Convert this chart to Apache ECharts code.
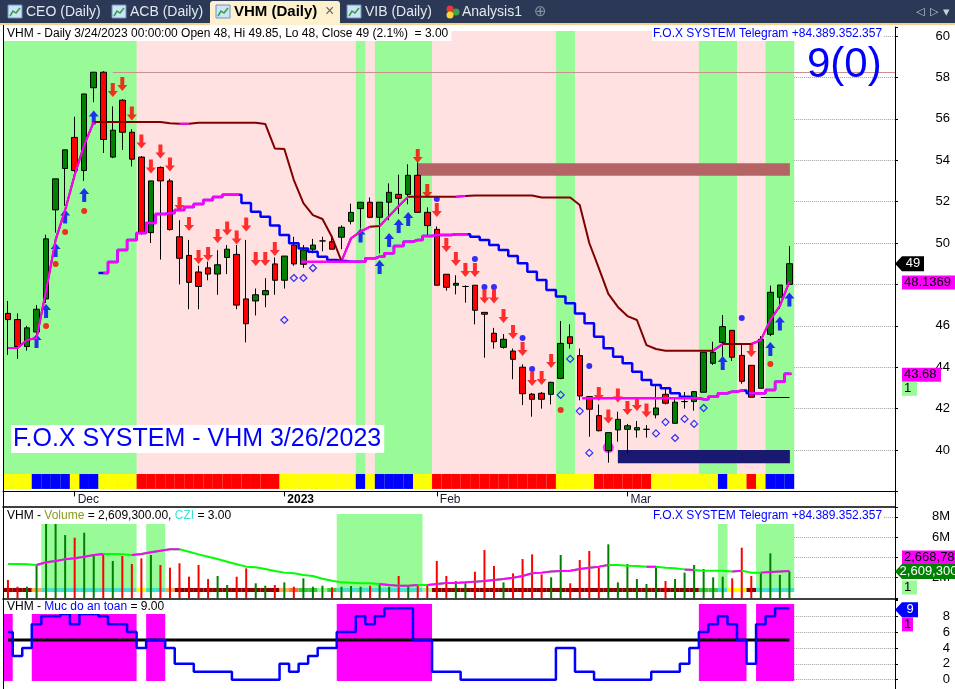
<!DOCTYPE html>
<html>
<head>
<meta charset="utf-8">
<script src="https://cdn.jsdelivr.net/npm/echarts@6.0.0/dist/echarts.min.js"></script>
<style>
html,body{margin:0;padding:0;background:#fff;}
#chart{width:955px;height:689px;}
</style>
</head>
<body>
<div id="chart"></div>
<script>
// ---------------- DATA ----------------
const dates = ['2022-11-22','2022-11-23','2022-11-24','2022-11-25','2022-11-28','2022-11-29','2022-11-30',
'2022-12-01','2022-12-02','2022-12-05','2022-12-06','2022-12-07','2022-12-08','2022-12-09','2022-12-12','2022-12-13','2022-12-14','2022-12-15','2022-12-16','2022-12-19','2022-12-20','2022-12-21','2022-12-22','2022-12-23','2022-12-26','2022-12-27','2022-12-28','2022-12-29','2022-12-30',
'2023-01-03','2023-01-04','2023-01-05','2023-01-06','2023-01-09','2023-01-10','2023-01-11','2023-01-12','2023-01-13','2023-01-16','2023-01-17','2023-01-18','2023-01-19','2023-01-27','2023-01-30','2023-01-31',
'2023-02-01','2023-02-02','2023-02-03','2023-02-06','2023-02-07','2023-02-08','2023-02-09','2023-02-10','2023-02-13','2023-02-14','2023-02-15','2023-02-16','2023-02-17','2023-02-20','2023-02-21','2023-02-22','2023-02-23','2023-02-24','2023-02-27','2023-02-28',
'2023-03-01','2023-03-02','2023-03-03','2023-03-06','2023-03-07','2023-03-08','2023-03-09','2023-03-10','2023-03-13','2023-03-14','2023-03-15','2023-03-16','2023-03-17','2023-03-20','2023-03-21','2023-03-22','2023-03-23','2023-03-24'];

const opens = [46.6,46.3,45.0,45.7,47.3,51.6,53.6,55.1,53.5,57.5, 58.25,54.15,56.9,55.35,54.15,50.5,53.65,53.0,50.3,49.4, 48.6,48.8,48.5,49.3,49.45,47.3,47.2,47.5,48.99,48.2, 49.9,48.97,49.7,50.1,50.06,50.28,51.05,51.66,51.97,51.24, 51.97,52.35,52.35,53.27,51.48,50.66,48.49,47.96,47.9,47.96, 46.65,45.64,44.96,44.78,44.0,42.7,42.74,42.69,43.46,45.47, 44.56,42.58,41.66,39.97,40.97,41.0,40.97,41.0,41.7,42.69, 41.29,42.34,42.34,42.79,44.19,45.2,45.78,44.57,44.09,42.98, 45.59,47.38,48.0];
const highs = [47.2,46.6,46.0,47.0,50.4,53.1,54.5,56.1,57.2,58.25, 58.3,56.6,56.95,55.5,54.2,53.0,53.7,53.1,51.1,50.15, 48.9,49.1,49.65,49.9,49.9,50.15,47.8,48.3,49.3,49.37, 50.3,49.9,50.2,50.3,50.3,50.85,51.9,51.97,52.2,51.97, 52.88,53.3,53.8,53.9,51.72,50.8,48.5,48.44,47.95,47.96, 46.65,45.9,45.6,44.9,44.14,42.75,42.8,43.3,46.23,46.07, 44.9,42.6,42.2,40.84,41.85,41.26,41.4,41.2,43.14,43.0, 42.5,42.8,42.85,44.72,45.23,46.52,45.8,45.1,44.1,45.5, 47.94,47.97,49.85];
const lows = [44.6,44.4,44.8,45.6,47.1,50.5,51.8,53.4,53.0,56.8, 54.35,54.1,54.5,53.7,50.4,50.0,49.2,50.6,48.0,46.8, 46.8,48.2,47.5,48.5,46.8,45.2,46.5,46.9,47.5,47.8, 48.9,48.8,49.5,49.6,49.7,49.7,50.9,50.7,51.2,49.5, 51.1,51.4,51.87,51.48,50.39,47.96,47.7,47.52,47.12,46.07, 44.46,44.9,44.9,43.42,42.17,41.61,42.0,42.2,43.42,44.9, 42.4,40.64,40.9,39.39,40.4,39.84,40.6,40.6,41.53,42.2, 41.29,42.0,41.9,42.79,44.11,44.51,44.3,43.2,42.55,42.98, 45.5,46.81,48.0];
const closes = [46.3,45.0,45.9,46.8,50.2,53.1,54.5,53.5,57.2,58.25, 55.0,55.45,55.35,54.05,50.5,53.0,53.0,50.65,49.26,48.1, 47.9,48.5,48.95,49.7,47.0,46.1,47.5,47.7,48.2,49.37, 48.99,49.66,49.9,50.1,49.7,50.76,51.48,51.97,51.24,51.97, 52.45,52.16,53.27,51.48,50.84,47.96,47.86,48.05,47.9,46.75, 46.56,45.23,45.35,44.38,42.72,42.45,42.45,43.27,45.15,45.15, 42.61,41.97,40.93,40.84,41.48,41.17,41.08,41.0,42.03,42.26, 42.31,42.34,42.82,44.72,44.72,45.96,44.48,43.32,42.55,45.35, 47.62,47.97,49.0];

// trailing stop (upper) and support (lower) lines
const upperLine = [44.93,44.93,45.31,45.41,47.7,50.15,51.59,53.29,54.73,55.85, 55.85,55.85,55.85,55.85,55.85,55.85,55.85,55.78,55.76,55.76, 55.81,55.81,55.81,55.81,55.81,55.81,55.81,55.75,54.57,54.54, 53.04,51.93,51.35,51.16,50.29,49.13,50.23,50.55,50.79,50.82, 51.3,51.79,52.24,52.24,52.24,52.24,52.24,52.24,52.27,52.29, 52.29,52.29,52.29,52.29,52.29,52.29,52.2,52.2,52.2,52.2, 51.84,50.0,48.79,47.54,46.91,46.47,46.28,45.07,44.88,44.8, 44.8,44.8,44.8,44.8,44.8,45.12,45.12,45.12,45.12,45.31, 46.28,46.96,48.1369];
const upperMagentaSegs = [[0,9],[18,19],[35,38],[39,42],[47,48],[74,75],[78,82]];
const lowerLine = [null,null,null,null,null,null,null,null,null,null, 48.55,49.08,49.66,50.15,50.48,50.97,51.4,51.45,51.59,51.74, 51.88,52.08,52.22,52.33,52.33,51.93,51.51,51.27,50.84,50.39, 49.99,49.74,49.58,49.34,49.18,49.13,49.1,49.1,49.26,49.34, 49.5,49.86,50.06,50.15,50.34,50.39,50.39,50.42,50.42,50.3, 50.15,49.9,49.66,49.37,49.02,48.61,48.21,47.73,47.41,47.09, 46.6,46.12,45.47,44.91,44.51,44.19,43.78,43.38,43.14,42.98, 42.74,42.57,42.5,42.45,42.57,42.74,42.82,42.87,42.74,42.74, 42.9,43.3,43.68];
const lowerMagentaSegs = [[10,24],[37,48],[72,77],[78,82]];

// signals
const redArrows = [[11,57.39],[12,57.68],[13,56.26],[14,54.9],[15,53.7],[16,54.42],[17,53.79],[18,51.88],[19,50.92],[20,49.32],[21,49.47],[22,50.34],[23,50.7],[24,50.27],[25,50.89],[26,49.23],[27,49.23],[28,49.71],[43,54.2],[44,52.51],[45,51.59],[46,49.9],[47,49.23],[48,48.7],[49,48.7],[50,47.42],[51,47.42],[52,46.47],[53,45.7],[54,44.88],[55,43.43],[56,43.48],[57,44.3],[62,42.71],[63,41.62],[64,42.63],[65,42.03],[66,42.22],[67,41.91],[78,44.83]];
const blueArrows = [[3,45.27],[4,46.71],[5,49.66],[6,51.28],[8,52.32],[9,56.06],[37,50.36],[39,48.84],[40,50.15],[41,50.82],[42,51.16],[75,44.2],[80,44.88],[81,46.11],[82,47.27]];
const redDots = [[4,45.99],[5,48.99],[6,50.53],[8,51.55],[58,41.93],[80,44.15]];
const blueDots = [[45,52.13],[49,49.23],[50,47.87],[51,47.87],[54,45.41],[55,43.91],[61,44.06],[77,46.38]];
const hollowDiamonds = [[29,46.28],[30,48.31],[31,48.31],[32,48.79],[58,42.66],[59,44.4],[60,41.88],[61,39.86],[68,40.8],[69,41.35],[70,40.58],[71,41.5],[72,41.26],[73,42.03]];
const magentaCircle = [[63,40.12]];

// zones [startIdx, endIdx, low, high]
const resistanceZone = [43, 82.05, 53.25, 53.85];
const supportZone = [64, 82.05, 39.36, 40.0];
const highLevel = [11, 58.25];
const lowLevel = [79, 82, 42.55];

// background bands (inclusive bar index ranges)
const mainGreenBands = [[0,13],[37,37],[39,44],[58,59],[73,76],[80,82]];
const mainStripRuns = [['Y',3],['B',4],['Y',1],['B',2],['Y',4],['R',15],['Y',8],['B',1],['Y',1],['B',4],['Y',2],['R',13],['Y',4],['R',6],['Y',7],['B',1],['Y',2],['R',1],['Y',1],['B',3]];

// volume panel (millions)
const volumes = [1.77,1.11,1.11,3.32,7.29,7.29,6.2,5.94,6.43,4.24, 4.24,3.65,4.14,3.35,3.91,4.24,3.25,2.99,3.42,2.1, 3.25,1.87,2.17,1.28,2.1,2.92,1.45,1.21,1.28,1.54, 1.11,1.94,1.11,1.21,1.05,1.11,1.18,1.11,1.21,1.38, 1.11,2.17,1.18,1.38,1.28,3.65,2.17,1.67,1.57,2.59, 4.73,3.15,1.54,2.43,3.84,4.3,2.33,2.04,4.24,1.45, 3.74,4.63,2.99,5.29,1.54,3.35,1.87,1.38,3.02,1.67, 1.87,2.5,3.25,2.86,2.04,2.1,1.94,4.96,2.17,2.5, 4.4,2.27,2.6093];
const volumeMA = [3.35,3.35,3.33,3.25,3.52,3.65,3.81,3.91,4.07,4.24, 4.33,4.33,4.3,4.24,4.33,4.5,4.66,4.8,4.8,4.56, 4.3,4.07,3.84,3.58,3.32,3.09,3.02,2.86,2.66,2.5, 2.43,2.27,2.17,1.9,1.7,1.54,1.5,1.45,1.45,1.38, 1.28,1.21,1.21,1.28,1.28,1.38,1.48,1.48,1.54,1.61, 1.67,1.77,1.87,2.0,2.17,2.43,2.5,2.6,2.66,2.69, 2.86,2.99,3.09,3.25,3.25,3.18,3.15,3.09,3.09,2.99, 2.92,2.82,2.76,2.69,2.69,2.69,2.6,2.69,2.5,2.5, 2.55,2.62,2.66878];
const volMAMagentaSegs = [[3,10],[13,18],[39,43],[44,63],[67,68],[71,72],[76,77],[79,82]];
const volBands = [[4,13,7.29],[15,16,7.29],[35,43,8.28],[75,75,7.29],[79,82,7.29]];
const volStripRuns = [['D',3],['O',1],['C',10],['Y',1],['C',2],['O',1],['D',11],['O',1],['K',1],['G',2],['L',1],['G',1],['C',9],['L',1],['D',28],['G',2],['C',1],['Y',2],['D',1],['C',4]];
const czi = 3.00;

// safety panel
const safety = [6,3,4,7,8,8,8.3,7,8.3,8.3, 8,7,7,6,4,5,5,4,2,2, 1,1,1,1,0,0,0,0,0,2, 1,2,3,4,4,6,6,8,7,8, 9,9,9,5,5,1,1,1,0,0, 0,0,0,0,0,0,0,0,4,4, 1,1,0,0,0,0,0,0,1,1, 1,2,4,6,7,8,7,5,2,7, 8,9,9];
const safetyThreshold = 5;
const safetyBands = [[0,0,8.32],[3,13,8.32],[15,16,8.32],[35,44,9.55],[73,77,9.55],[79,82,9.55]];

// axis ticks
const priceTicks = [40,42,44,46,48,50,52,54,56,58,60];
const volTicks = [2,4,6,8];
const safetyTicks = [0,2,4,6,8];

// ---------------- HELPERS ----------------
const F = 'Liberation Sans, Arial, sans-serif';
const N = closes.length;
const XMIN = -0.52, XMAX = 93.08;
const PINK = '#FFE1E1', PGREEN = '#98FB98', MAG = '#FF00FF', DRED = '#800000', BLUE = '#0000FF';
const stripColors = {Y:'#FFFF00', B:'#0000FF', R:'#FF0000', D:'#8B0000', O:'#FFAA55', C:'#40E0D0', K:'#FF7038', G:'#3CC83C', L:'#98FB98'};

function expandRuns(runs){ const out=[]; runs.forEach(([k,n])=>{ for(let j=0;j<n;j++) out.push(k); }); return out; }
function segData(vals, segs){
  const out=[];
  segs.forEach(([a,b])=>{ for(let i=a;i<=b;i++) out.push([i, vals[i]]); out.push([b+0.5, null]); });
  return out;
}
function full(vals){ return vals.map((v,i)=>[i, v]); }
function rectRender(params, api){
  const a = api.coord([api.value(0), api.value(3)]);
  const b = api.coord([api.value(1), api.value(2)]);
  return {type:'rect', shape:{x:a[0], y:a[1], width:b[0]-a[0], height:b[1]-a[1]}, style:{fill: api.visual('color')}};
}
function gridLines(ticks){
  return ticks.map(v => [{coord:[82.5, v], lineStyle:{type:'dotted', color:'#A0A0A0', width:1}}, {coord:[XMAX, v]}]);
}

// month ticks
const monthNames = ['Jan','Feb','Mar','Apr','May','Jun','Jul','Aug','Sep','Oct','Nov','Dec'];
const monthIdx = [], monthLabels = [], yearFlags = [];
dates.forEach((d,i)=>{
  if (i>0 && d.slice(5,7) !== dates[i-1].slice(5,7)) {
    const m = +d.slice(5,7);
    monthIdx.push(i);
    monthLabels.push(m===1 ? d.slice(0,4) : monthNames[m-1]);
    yearFlags.push(m===1);
  }
});

// band items
const mainBgItems = [{value:[-0.5, N-0.5, 38.12, 60.24], itemStyle:{color:PINK}}]
  .concat(mainGreenBands.map(([a,b])=>({value:[a-0.5, b+0.5, 38.12, 60.24], itemStyle:{color:PGREEN}})));
const mainStripItems = expandRuns(mainStripRuns).map((k,i)=>({value:[i-0.5, i+0.5, 38.12, 38.84], itemStyle:{color:stripColors[k]}}));
const zoneItems = [
  {value:[resistanceZone[0], resistanceZone[1], resistanceZone[2], resistanceZone[3]], itemStyle:{color:'#B46464'}},
  {value:[supportZone[0], supportZone[1], supportZone[2], supportZone[3]], itemStyle:{color:'#191970'}}
];
const volBandItems = volBands.map(([a,b,t])=>({value:[a-0.5, b+0.5, 0, t], itemStyle:{color:PGREEN}}));
const volStripItems = [{value:[-0.5, N-0.5, 0, 0.59], itemStyle:{color:'#FFFFFF'}}]
  .concat(expandRuns(volStripRuns).map((k,i)=>({value:[i-0.5, i+0.5, 0.59, 0.99], itemStyle:{color:stripColors[k]}})));
const safetyBandItems = safetyBands.map(([a,b,t])=>({value:[a-0.5, b+0.5, -0.16, t], itemStyle:{color:MAG}}));

const candleData = closes.map((c,i)=>[i, opens[i], c, lows[i], highs[i]]);
const volData = volumes.map((v,i)=>({value:[i, v], itemStyle:{color: closes[i] >= opens[i] ? '#008000' : '#FF0000'}}));

const downArrow = 'path://M3,0L7,0L7,8L10,8L5,14L0,8L3,8Z';
const upArrow = 'path://M5,0L10,6L7,6L7,14L3,14L3,6L0,6Z';

// ---------------- OPTION ----------------
const axisCommon = {type:'value', min:XMIN, max:XMAX, splitLine:{show:false}};
const option = {
  animation:false,
  backgroundColor:'#FFFFFF',
  textStyle:{fontFamily:F},
  grid:[
    {left:3, right:60, top:27, height:464.4, outerBoundsMode:'none'},
    {left:3, right:60, top:507, height:91, outerBoundsMode:'none'},
    {left:3, right:60, top:599, height:96.56, outerBoundsMode:'none'}
  ],
  xAxis:[
    Object.assign({}, axisCommon, {gridIndex:0, position:'bottom',
      axisLine:{show:true, onZero:false, lineStyle:{color:'#000', width:1}},
      axisTick:{show:true, customValues:monthIdx, length:5, lineStyle:{color:'#000'}},
      axisLabel:{show:true, customValues:monthIdx, align:'left', padding:[0,0,0,3], margin:2, fontSize:12, fontFamily:F, color:'#1A1A2E',
        formatter:(v)=>{ const k = monthIdx.indexOf(Math.round(v)); if(k<0) return ''; return yearFlags[k] ? '{b|'+monthLabels[k]+'}' : monthLabels[k]; },
        rich:{b:{fontWeight:'bold', fontSize:12, fontFamily:F, color:'#000'}}}}),
    Object.assign({}, axisCommon, {gridIndex:1, position:'top', axisLine:{show:true, onZero:false, lineStyle:{color:'#000', width:1.5}}, axisTick:{show:false}, axisLabel:{show:false}}),
    Object.assign({}, axisCommon, {gridIndex:2, position:'top', axisLine:{show:true, onZero:false, lineStyle:{color:'#000', width:1.5}}, axisTick:{show:false}, axisLabel:{show:false}})
  ],
  yAxis:[
    {gridIndex:0, type:'value', position:'right', min:38, max:60.435, interval:2, splitLine:{show:false},
      axisLine:{show:true, onZero:false, lineStyle:{color:'#000'}}, axisTick:{show:true, length:3, lineStyle:{color:'#000'}},
      axisLabel:{align:'right', margin:55, fontSize:13, fontFamily:F, color:'#000', formatter:v=> priceTicks.indexOf(v)>=0 ? String(v) : ''}},
    {gridIndex:1, type:'value', position:'right', min:0, max:8.966, interval:2, splitLine:{show:false},
      axisLine:{show:true, onZero:false, lineStyle:{color:'#000'}}, axisTick:{show:true, length:3, lineStyle:{color:'#000'}},
      axisLabel:{align:'right', margin:55, fontSize:13, fontFamily:F, color:'#000', formatter:v=> volTicks.indexOf(v)>=0 ? v+'M' : ''}},
    {gridIndex:2, type:'value', position:'right', min:-2, max:10.177, interval:2, splitLine:{show:false},
      axisLine:{show:true, onZero:false, lineStyle:{color:'#000'}}, axisTick:{show:true, length:3, lineStyle:{color:'#000'}},
      axisLabel:{align:'right', margin:55, fontSize:13, fontFamily:F, color:'#000', formatter:v=> safetyTicks.indexOf(v)>=0 ? String(v) : ''}}
  ],
  series:[
    // ---- main panel ----
    {type:'custom', xAxisIndex:0, yAxisIndex:0, renderItem:rectRender, encode:{x:[0,1], y:[2,3]}, silent:true, data:mainBgItems},
    {type:'custom', xAxisIndex:0, yAxisIndex:0, renderItem:rectRender, encode:{x:[0,1], y:[2,3]}, silent:true, data:mainStripItems},
    {type:'custom', xAxisIndex:0, yAxisIndex:0, renderItem:rectRender, encode:{x:[0,1], y:[2,3]}, silent:true, data:zoneItems},
    {type:'scatter', xAxisIndex:0, yAxisIndex:0, data:magentaCircle, symbol:'circle', symbolSize:11, itemStyle:{color:MAG}, silent:true},
    {type:'candlestick', xAxisIndex:0, yAxisIndex:0, data:candleData, barWidth:6, silent:true,
      itemStyle:{color:'#008000', color0:'#FF0000', borderColor:'#000', borderColor0:'#000', borderColorDoji:'#000', borderWidth:1}},
    {type:'line', xAxisIndex:0, yAxisIndex:0, data:full(upperLine), symbol:'none', lineStyle:{color:DRED, width:2}, silent:true,
      markLine:{silent:true, symbol:['none','none'], label:{show:false},
        data: gridLines(priceTicks).concat([
          [{coord:[highLevel[0], highLevel[1]], lineStyle:{type:'solid', color:'#C89090', width:1}}, {coord:[XMAX, highLevel[1]]}],
          [{coord:[lowLevel[0], lowLevel[2]], lineStyle:{type:'solid', color:'#000', width:1}}, {coord:[lowLevel[1], lowLevel[2]]}]
        ])}},
    {type:'line', xAxisIndex:0, yAxisIndex:0, data:segData(upperLine, upperMagentaSegs), symbol:'none', lineStyle:{color:MAG, width:2}, silent:true},
    {type:'line', xAxisIndex:0, yAxisIndex:0, data:full(lowerLine), step:'middle', symbol:'none', lineStyle:{color:BLUE, width:2.5}, silent:true},
    {type:'line', xAxisIndex:0, yAxisIndex:0, data:segData(lowerLine, lowerMagentaSegs), step:'middle', symbol:'none', lineStyle:{color:MAG, width:2.5}, silent:true},
    {type:'scatter', xAxisIndex:0, yAxisIndex:0, data:hollowDiamonds, symbol:'diamond', symbolSize:7, itemStyle:{color:'rgba(0,0,0,0)', borderColor:BLUE, borderWidth:1.2}, silent:true},
    {type:'scatter', xAxisIndex:0, yAxisIndex:0, data:redDots, symbol:'circle', symbolSize:6, itemStyle:{color:'#FF0000'}, silent:true},
    {type:'scatter', xAxisIndex:0, yAxisIndex:0, data:blueDots, symbol:'circle', symbolSize:6, itemStyle:{color:BLUE}, silent:true},
    {type:'scatter', xAxisIndex:0, yAxisIndex:0, data:redArrows, symbol:downArrow, symbolSize:[10,14], itemStyle:{color:'#FF0000'}, silent:true},
    {type:'scatter', xAxisIndex:0, yAxisIndex:0, data:blueArrows, symbol:upArrow, symbolSize:[10,14], itemStyle:{color:BLUE}, silent:true},
    // ---- volume panel ----
    {type:'custom', xAxisIndex:1, yAxisIndex:1, renderItem:rectRender, encode:{x:[0,1], y:[2,3]}, silent:true, data:volBandItems},
    {type:'bar', xAxisIndex:1, yAxisIndex:1, data:volData, barWidth:2, silent:true},
    {type:'custom', xAxisIndex:1, yAxisIndex:1, renderItem:rectRender, encode:{x:[0,1], y:[2,3]}, silent:true, data:volStripItems},
    {type:'line', xAxisIndex:1, yAxisIndex:1, data:full(volumeMA), symbol:'none', lineStyle:{color:'#00FF00', width:2}, silent:true,
      markLine:{silent:true, symbol:['none','none'], label:{show:false}, data:gridLines(volTicks)}},
    {type:'line', xAxisIndex:1, yAxisIndex:1, data:segData(volumeMA, volMAMagentaSegs), symbol:'none', lineStyle:{color:MAG, width:2}, silent:true},
    // ---- safety panel ----
    {type:'custom', xAxisIndex:2, yAxisIndex:2, renderItem:rectRender, encode:{x:[0,1], y:[2,3]}, silent:true, data:safetyBandItems},
    {type:'line', xAxisIndex:2, yAxisIndex:2, data:[[0, safetyThreshold],[N-1, safetyThreshold]], symbol:'none', lineStyle:{color:'#000', width:3}, silent:true,
      markLine:{silent:true, symbol:['none','none'], label:{show:false}, data:gridLines(safetyTicks)}},
    {type:'line', xAxisIndex:2, yAxisIndex:2, data:full(safety), step:'middle', symbol:'none', lineStyle:{color:BLUE, width:2.5}, silent:true}
  ]
};

// ---------------- DECORATION (tabs, texts) ----------------
const last = N-1;
const pct = ((closes[last]-closes[last-1])/closes[last-1]*100).toFixed(1);
const d = dates[last].split('-');
const dateTxt = (+d[1])+'/'+(+d[2])+'/'+d[0];
const headerTxt = 'VHM - Daily '+dateTxt+' 00:00:00 Open '+opens[last]+', Hi '+highs[last]+', Lo '+lows[last]+', Close '+closes[last]+' ('+pct+'%)  = 3.00';
const fmtInt = v => Math.round(v*1e6).toLocaleString('en-US');

const G = [];
G.push({type:'rect', z:100, shape:{x:0,y:0,width:955,height:23}, style:{fill:'#2B3956'}});
G.push({type:'rect', z:100, shape:{x:0,y:23,width:955,height:2}, style:{fill:'#F4D28C'}});
G.push({type:'rect', z:100, shape:{x:210,y:1,width:130,height:24,r:[3,3,0,0]}, style:{fill:'#FDF0CF'}});
const tabs = [{x:8,t:'CEO (Daily)'},{x:112,t:'ACB (Daily)'},{x:216,t:'VHM (Daily)',a:true},{x:347,t:'VIB (Daily)'}];
tabs.forEach(tb=>{
  G.push({type:'rect', z:100, shape:{x:tb.x,y:5,width:14,height:13}, style:{fill:'#CFE3F6', stroke:'#6F93C0', lineWidth:1}});
  G.push({type:'polyline', z:101, shape:{points:[[tb.x+2,tb.y=16],[tb.x+5,11],[tb.x+8,13],[tb.x+12,8]]}, style:{stroke:'#2E9E3E', lineWidth:1.5, fill:null}});
  G.push({type:'text', z:101, x:tb.x+18, y:12, style:{text:tb.t, fill: tb.a ? '#000' : '#E4E8EF', font: (tb.a ? 'bold 15px ' : '14px ')+F, verticalAlign:'middle'}});
});
G.push({type:'text', z:101, x:325, y:12, style:{text:'×', fill:'#666', font:'16px '+F, verticalAlign:'middle'}});
G.push({type:'circle', z:101, shape:{cx:450,cy:9,r:3.5}, style:{fill:'#E53935'}});
G.push({type:'circle', z:101, shape:{cx:456,cy:12,r:3.5}, style:{fill:'#43A047'}});
G.push({type:'circle', z:101, shape:{cx:450,cy:15,r:3.5}, style:{fill:'#FDD835'}});
G.push({type:'text', z:101, x:462, y:12, style:{text:'Analysis1', fill:'#E4E8EF', font:'14px '+F, verticalAlign:'middle'}});
G.push({type:'text', z:101, x:534, y:12, style:{text:'⊕', fill:'#8A93A6', font:'15px DejaVu Sans', verticalAlign:'middle'}});
G.push({type:'text', z:101, x:916, y:12, style:{text:'◁', fill:'#C9CED8', font:'11px DejaVu Sans', verticalAlign:'middle'}});
G.push({type:'text', z:101, x:930, y:12, style:{text:'▷', fill:'#C9CED8', font:'11px DejaVu Sans', verticalAlign:'middle'}});
G.push({type:'text', z:101, x:943, y:13, style:{text:'▾', fill:'#C9CED8', font:'13px DejaVu Sans', verticalAlign:'middle'}});
// borders
G.push({type:'line', z:100, shape:{x1:3.5,y1:25,x2:3.5,y2:689}, style:{stroke:'#000', lineWidth:1}});
G.push({type:'line', z:100, shape:{x1:895.5,y1:491,x2:895.5,y2:508}, style:{stroke:'#000', lineWidth:1}});
// texts
G.push({type:'text', z:100, x:4, y:27, style:{text:headerTxt, fill:'#000', font:'12px '+F, backgroundColor:'#fff', padding:[1,3,1,3]}});
G.push({type:'text', z:100, x:652, y:27, style:{text:'F.O.X SYSTEM Telegram +84.389.352.357', fill:BLUE, font:'12px '+F, backgroundColor:'#fff', padding:[1,1,1,1]}});
G.push({type:'text', z:100, x:807, y:44, style:{text:'9(0)', fill:BLUE, font:'42px '+F}});
G.push({type:'text', z:100, x:11, y:425, style:{text:'F.O.X SYSTEM - VHM 3/26/2023', fill:BLUE, font:'25px '+F, backgroundColor:'#fff', padding:[2,3,1,2]}});
G.push({type:'text', z:100, x:4, y:509, style:{
  text:'{k|VHM - }{v|Volume}{k| = '+fmtInt(volumes[last])+'.00, }{c|CZI}{k| = '+czi.toFixed(2)+'}',
  rich:{k:{fill:'#000', fontSize:12, fontFamily:F}, v:{fill:'#8C9A1E', fontSize:12, fontFamily:F}, c:{fill:'#40E0D0', fontSize:12, fontFamily:F}},
  backgroundColor:'#fff', padding:[1,3,1,3]}});
G.push({type:'text', z:100, x:652, y:509, style:{text:'F.O.X SYSTEM Telegram +84.389.352.357', fill:BLUE, font:'12px '+F, backgroundColor:'#fff', padding:[1,1,1,1]}});
G.push({type:'text', z:100, x:4, y:600, style:{
  text:'{k|VHM - }{b|Muc do an toan}{k| = '+safety[last].toFixed(2)+'}',
  rich:{k:{fill:'#000', fontSize:12, fontFamily:F}, b:{fill:BLUE, fontSize:12, fontFamily:F}},
  backgroundColor:'#fff', padding:[1,3,1,3]}});

option.graphic = G;

const chart = echarts.init(document.getElementById('chart'), null, {renderer:'canvas'});
chart.setOption(option);

// ---------------- VALUE BOXES on axes ----------------
function arrowBox(y, w, fill, text, textFill){
  return [
    {type:'polygon', z:110, shape:{points:[[895,y],[902,y-7.5],[902+w,y-7.5],[902+w,y+7.5],[902,y+7.5]]}, style:{fill:fill}},
    {type:'text', z:111, x:902+w/2, y:y, style:{text:text, fill:textFill, font:'13px '+F, align:'center', verticalAlign:'middle'}}
  ];
}
function box(x, y, w, fill, text){
  return [
    {type:'rect', z:110, shape:{x:x, y:y, width:w, height:14}, style:{fill:fill}},
    {type:'text', z:111, x:x+2, y:y+7, style:{text:text, fill:'#000', font:'13px '+F, verticalAlign:'middle'}}
  ];
}
const yClose = chart.convertToPixel({yAxisIndex:0}, closes[last]);
const yUp = chart.convertToPixel({yAxisIndex:0}, upperLine[last]);
const yLo = chart.convertToPixel({yAxisIndex:0}, lowerLine[last]);
const yVol = chart.convertToPixel({yAxisIndex:1}, volumes[last]);
const ySaf = chart.convertToPixel({yAxisIndex:2}, safety[last]);
let B = [];
B = B.concat(arrowBox(yClose, 22, '#000', String(closes[last]), '#fff'));
B = B.concat(box(902, yUp-6, 53, MAG, String(upperLine[last])));
B = B.concat(box(902, yLo-6, 39, MAG, String(lowerLine[last])));
B = B.concat(box(902, yLo+8, 15, PGREEN, '1'));
B = B.concat(box(902, yVol-21, 53, MAG, fmtInt(volumeMA[last])));
B = B.concat(arrowBox(yVol, 53, '#008000', fmtInt(volumes[last]), '#fff'));
B = B.concat(box(902, yVol+9, 15, PGREEN, '1'));
B = B.concat(arrowBox(ySaf+1.5, 16, BLUE, String(safety[last]), '#fff'));
B = B.concat(box(902, ySaf+9, 11, MAG, '1'));
chart.setOption({graphic: G.concat(B)});
</script>
</body>
</html>
